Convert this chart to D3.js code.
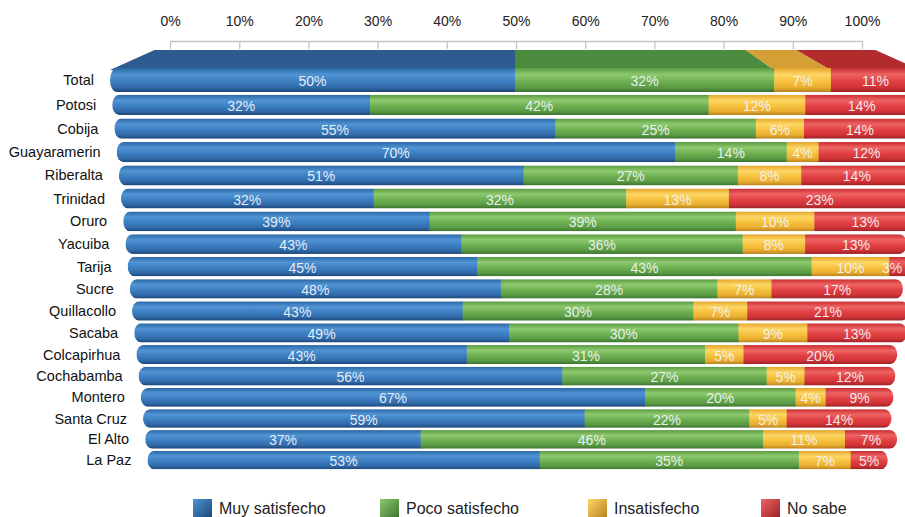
<!DOCTYPE html>
<html><head><meta charset="utf-8">
<script src="https://cdn.jsdelivr.net/npm/d3@7"></script>
<style>
html,body{margin:0;padding:0;background:#fff;}
svg{display:block;font-family:"Liberation Sans",Arial,Helvetica,sans-serif;}
</style></head>
<body>
<svg id="chart" width="905" height="517"></svg>
<script>
// ---- data ----
const categories = ["Total","Potosi","Cobija","Guayaramerin","Riberalta","Trinidad","Oruro","Yacuiba","Tarija","Sucre","Quillacollo","Sacaba","Colcapirhua","Cochabamba","Montero","Santa Cruz","El Alto","La Paz"];
const muySatisfecho  = [50,32,55,70,51,32,39,43,45,48,43,49,43,56,67,59,37,53];
const pocoSatisfecho = [32,42,25,14,27,32,39,36,43,28,30,30,31,27,20,22,46,35];
const insatisfecho   = [7,12,6,4,8,13,10,8,10,7,7,9,5,5,4,5,11,7];
const noSabe         = [11,14,14,12,14,23,13,13,3,17,21,13,20,12,9,14,7,5];
const seriesNames = ["Muy satisfecho","Poco satisfecho","Insatisfecho","No sabe"];
const tickValues = [0,10,20,30,40,50,60,70,80,90,100];

// ---- styles ----
const W = 905, H = 517;
const keys = ["muy","poco","insat","nosabe"];
const grad = {
  muy:    ["#2c66a4","#5094d4","#3d7fc2","#3069a8","#1c4576"],
  poco:   ["#5a9a42","#8ec96e","#6eb052","#5a9a44","#3b722e"],
  insat:  ["#e4a42a","#fdd665","#f7c23f","#e9ac30","#b5821e"],
  nosabe: ["#c92d31","#ee6363","#e24144","#cf3236","#9a2125"]
};
const topFace = {muy:"#2d5b8f", poco:"#4c8a3d", insat:"#d4a035", nosabe:"#b22c2e"};

const table = categories.map((c,i)=>({cat:c, muy:muySatisfecho[i], poco:pocoSatisfecho[i], insat:insatisfecho[i], nosabe:noSabe[i]}));
const stacked = d3.stack().keys(keys)(table);

const svg = d3.select("#chart");
const defs = svg.append("defs");
keys.forEach(k=>{
  const g = defs.append("linearGradient").attr("id","g-"+k).attr("x1",0).attr("y1",0).attr("x2",0).attr("y2",1);
  [0,0.28,0.55,0.82,1].forEach((o,j)=>g.append("stop").attr("offset",o).attr("stop-color",grad[k][j]));
  const lg = defs.append("linearGradient").attr("id","lg-"+k).attr("x1",0).attr("y1",0).attr("x2",1).attr("y2",1);
  lg.append("stop").attr("offset",0).attr("stop-color",grad[k][1]);
  lg.append("stop").attr("offset",1).attr("stop-color",grad[k][4]);
});

// ---- axis ----
const axisX = d3.scaleLinear().domain([0,100]).range([170,862]);
const ax = svg.append("g").attr("transform","translate(0,41)")
  .call(d3.axisTop(axisX).tickValues(tickValues).tickFormat(d=>d+"%").tickSizeInner(-8).tickSizeOuter(0).tickPadding(15));
ax.select(".domain").attr("stroke","#c4c4cc").attr("stroke-width",1.3);
ax.selectAll(".tick line").attr("stroke","#c4c4cc").attr("stroke-width",1.3);
ax.selectAll(".tick text").attr("font-size",14).attr("fill","#222").attr("font-family","Liberation Sans, Arial, sans-serif");

// ---- perspective rows ----
const rowLeft  = i => 110 + 2.2*i;
const rowRight = i => 920 - 1.9*i;
const rowCenter = i => i===0 ? 80 : 81 + 24*i - 0.1*i*i;
const rowH = i => i===0 ? 24 : 20.5 - 0.12*i;
const rowTotal = i => keys.reduce((acc,k)=>acc+table[i][k],0);
const rowScale = i => d3.scaleLinear().domain([0, Math.min(100, rowTotal(i))]).range([rowLeft(i), rowRight(i)]);

// Total top face
const x0s = rowScale(0);
const cx = (rowLeft(0)+rowRight(0))/2;
const yTopFront = rowCenter(0) - rowH(0)/2, yBack = 50, shrink = 0.89;
const back = x => cx + shrink*(x - cx);
const faceG = svg.append("g");
stacked.forEach(s=>{
  const d = s[0];
  const a = x0s(d[0]), b = x0s(d[1]);
  faceG.append("path")
    .attr("d", `M${a},${yTopFront+2}L${back(a)},${yBack}L${back(b)},${yBack}L${b},${yTopFront+2}Z`)
    .attr("fill", topFace[s.key]);
});

// bars
const barsG = svg.append("g");
categories.forEach((c,i)=>{
  const xs = rowScale(i);
  const h = rowH(i), yc = rowCenter(i), y = yc - h/2;
  const total = rowTotal(i);
  const clip = defs.append("clipPath").attr("id","clip"+i);
  clip.append("rect").attr("x",xs(0)).attr("y",y).attr("width",xs(total)-xs(0)).attr("height",h)
    .attr("rx",7).attr("ry",h/2);
  const g = barsG.append("g").attr("clip-path",`url(#clip${i})`);
  stacked.forEach(s=>{
    const d = s[i];
    g.append("rect").attr("x",xs(d[0])).attr("y",y).attr("width",Math.max(0,xs(d[1])-xs(d[0]))+0.5).attr("height",h)
      .attr("fill",`url(#g-${s.key})`);
  });
  // value labels
  stacked.forEach(s=>{
    const d = s[i];
    const mx = Math.min((xs(d[0])+xs(d[1]))/2, W-13);
    barsG.append("text").attr("x",mx).attr("y",yc+6).attr("text-anchor","middle")
      .attr("font-size",14).attr("fill","#f2f5fa").attr("fill-opacity",0.95)
      .text((d[1]-d[0])+"%");
  });
  // category label
  svg.append("text").attr("x",xs(0)-16).attr("y",yc+5).attr("text-anchor","end")
    .attr("font-size",14.5).attr("fill","#111").text(c);
});

// legend
const legendX = [193,380,588,761];
const lg = svg.append("g");
seriesNames.forEach((n,j)=>{
  lg.append("rect").attr("x",legendX[j]).attr("y",499).attr("width",19).attr("height",19).attr("fill",`url(#lg-${keys[j]})`);
  lg.append("text").attr("x",legendX[j]+26).attr("y",514).attr("font-size",16).attr("fill","#222").text(n);
});
</script>
</body></html>
